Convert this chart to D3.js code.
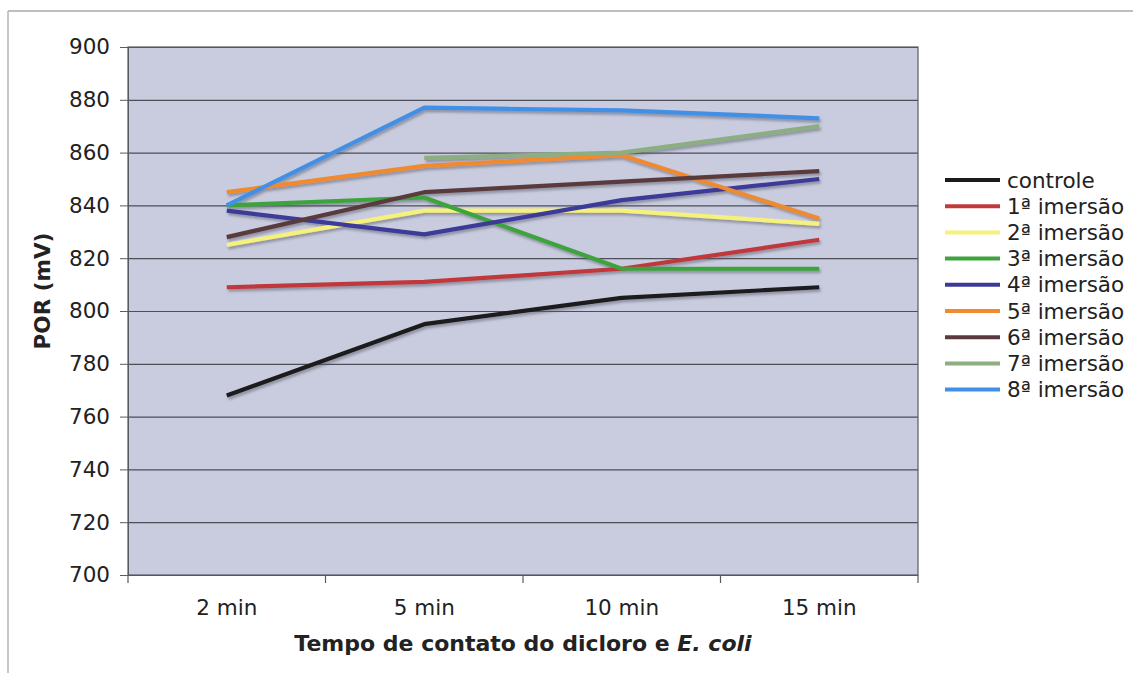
<!DOCTYPE html>
<html>
<head>
<meta charset="utf-8">
<script src="https://cdn.jsdelivr.net/npm/d3@7"></script>
<style>
  html, body { margin: 0; padding: 0; background: #ffffff; }
  svg { display: block; font-family: "DejaVu Sans", Verdana, sans-serif; }
</style>
</head>
<body>
<svg id="chart" width="1133" height="673"></svg>
<script>
// Contact times (categories) and POR readings (mV) per series
const categories = ["2 min", "5 min", "10 min", "15 min"];
const seriesNames = ["controle", "1ª imersão", "2ª imersão", "3ª imersão", "4ª imersão",
                     "5ª imersão", "6ª imersão", "7ª imersão", "8ª imersão"];
const controle = [768, 795, 805, 809];
const imersao1 = [809, 811, 816, 827];
const imersao2 = [825, 838, 838, 833];
const imersao3 = [840, 843, 816, 816];
const imersao4 = [838, 829, 842, 850];
const imersao5 = [845, 855, 859, 835];
const imersao6 = [828, 845, 849, 853];
const imersao7 = [null, 858, 860, 870];
const imersao8 = [840, 877, 876, 873];
const seriesValues = [controle, imersao1, imersao2, imersao3, imersao4,
                      imersao5, imersao6, imersao7, imersao8];
const seriesColors = ["#1c1a1c", "#c0393b", "#f6f07c", "#3ea43e", "#3c3a98",
                      "#f08a2e", "#5a3a3e", "#8cae80", "#4290e6"];
const yTicks = [700, 720, 740, 760, 780, 800, 820, 840, 860, 880, 900];

const svg = d3.select("#chart");
const plot = { left: 128, right: 918, top: 47, bottom: 575 };
const FS = 21.5;

const x = d3.scaleBand().domain(categories).range([plot.left, plot.right]).padding(0);
const y = d3.scaleLinear().domain([700, 900]).range([plot.bottom, plot.top]);

// Outer chart frame (top and left edges)
svg.append("line").attr("x1", 8).attr("y1", 11).attr("x2", 1133).attr("y2", 11)
  .attr("stroke", "#a8a8ac").attr("stroke-width", 1.5);
svg.append("line").attr("x1", 8).attr("y1", 11).attr("x2", 8).attr("y2", 673)
  .attr("stroke", "#b4b4b8").attr("stroke-width", 1.5);

// Drop shadow for series lines
const defs = svg.append("defs");
const f = defs.append("filter").attr("id", "shadow")
  .attr("x", "-5%").attr("y", "-20%").attr("width", "110%").attr("height", "140%");
f.append("feDropShadow").attr("dx", 1.5).attr("dy", 2.5).attr("stdDeviation", 1.2)
  .attr("flood-color", "#555a6a").attr("flood-opacity", 0.5);

// Plot background
svg.append("rect")
  .attr("x", plot.left).attr("y", plot.top)
  .attr("width", plot.right - plot.left).attr("height", plot.bottom - plot.top)
  .attr("fill", "#c9ccde");

// Horizontal gridlines
svg.append("g")
  .attr("transform", `translate(${plot.left},0)`)
  .call(d3.axisLeft(y).tickValues(yTicks).tickSize(-(plot.right - plot.left)).tickFormat(""))
  .call(g => g.select(".domain").remove())
  .call(g => g.selectAll("line").attr("stroke", "#4e4e56").attr("stroke-width", 1.2));

// Plot border
svg.append("rect")
  .attr("x", plot.left).attr("y", plot.top)
  .attr("width", plot.right - plot.left).attr("height", plot.bottom - plot.top)
  .attr("fill", "none").attr("stroke", "#5a5a64").attr("stroke-width", 1.2);

// Y axis
svg.append("g")
  .attr("transform", `translate(${plot.left},0)`)
  .call(d3.axisLeft(y).tickValues(yTicks).tickSize(8).tickPadding(10).tickFormat(d3.format("d")))
  .call(g => g.select(".domain").attr("stroke", "#5a5a64"))
  .call(g => g.selectAll(".tick line").attr("stroke", "#5a5a64"))
  .call(g => g.selectAll(".tick text")
    .attr("font-family", "DejaVu Sans, Verdana, sans-serif")
    .attr("font-size", FS).attr("fill", "#222"));

// X axis: ticks on category boundaries, labels centred in each band
const xBounds = categories.map(c => x(c)).concat([plot.right]);
svg.append("g").selectAll("line").data(xBounds).join("line")
  .attr("x1", d => d).attr("x2", d => d)
  .attr("y1", plot.bottom).attr("y2", plot.bottom + 8)
  .attr("stroke", "#5a5a64").attr("stroke-width", 1.2);
svg.append("g").selectAll("text").data(categories).join("text")
  .attr("x", d => x(d) + x.bandwidth() / 2)
  .attr("y", 615)
  .attr("text-anchor", "middle")
  .attr("font-size", FS).attr("fill", "#222")
  .text(d => d);

// Axis titles
const xt = svg.append("text")
  .attr("x", (plot.left + plot.right) / 2).attr("y", 651)
  .attr("text-anchor", "middle")
  .attr("font-size", 22).attr("font-weight", "bold").attr("fill", "#222");
xt.append("tspan").text("Tempo de contato do dicloro e ");
xt.append("tspan").attr("font-style", "italic").text("E. coli");

svg.append("text")
  .attr("transform", "translate(50,291) rotate(-90)")
  .attr("text-anchor", "middle")
  .attr("font-size", FS).attr("font-weight", "bold").attr("fill", "#222")
  .text("POR (mV)");

// Series lines
const line = d3.line()
  .defined(d => d.v !== null)
  .x(d => x(d.c) + x.bandwidth() / 2)
  .y(d => y(d.v));

const seriesData = seriesNames.map((name, i) => ({
  name,
  color: seriesColors[i],
  points: categories.map((c, j) => ({ c, v: seriesValues[i][j] }))
}));

svg.append("g").attr("filter", "url(#shadow)")
  .selectAll("path").data(seriesData).join("path")
  .attr("d", d => line(d.points))
  .attr("fill", "none")
  .attr("stroke", d => d.color)
  .attr("stroke-width", 4.2)
  .attr("stroke-linejoin", "round");

// Legend
const legend = svg.append("g");
const rows = legend.selectAll("g").data(seriesData).join("g")
  .attr("transform", (d, i) => `translate(945,${180 + i * 26.2})`);
rows.append("line")
  .attr("x1", 0).attr("x2", 55).attr("y1", 0).attr("y2", 0)
  .attr("stroke", d => d.color).attr("stroke-width", 4);
rows.append("text")
  .attr("x", 62).attr("y", 7.5)
  .attr("font-size", FS).attr("fill", "#222")
  .text(d => d.name);
</script>
</body>
</html>
